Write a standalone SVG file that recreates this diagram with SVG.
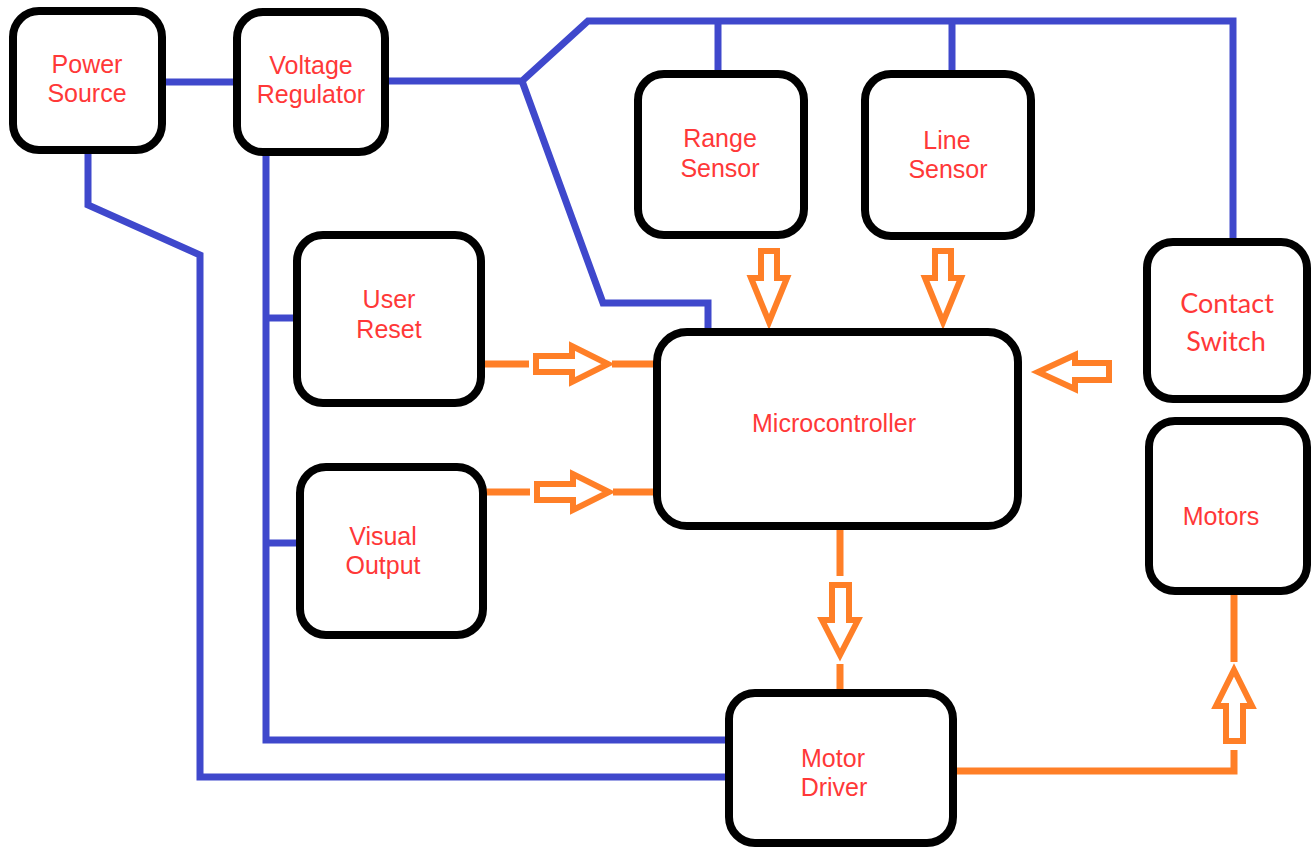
<svg xmlns="http://www.w3.org/2000/svg" width="1315" height="850" viewBox="0 0 1315 850">
<style>
.box{fill:#fff;stroke:#000;stroke-width:8}
.lbl{font-family:"Liberation Sans",Arial,sans-serif;font-size:25px;fill:#ff3838;text-anchor:middle}
.lbl2{font-family:Lato,"Liberation Sans",sans-serif;font-size:27px;fill:#ff3838;text-anchor:middle}
.pw{fill:none;stroke:#3f48cc;stroke-width:7;stroke-linejoin:miter}
.sig{fill:none;stroke:#ff7f27;stroke-width:7}
.arr{fill:#fff;stroke:#ff7f27;stroke-width:6;stroke-linejoin:miter}
</style>
<rect width="1315" height="850" fill="#fff"/>
<g id="connectors">
<!-- power wiring -->
<path class="pw" d="M165 82 H237"/>
<path class="pw" d="M389 81 H522 L588 21 H1233 V242"/>
<path class="pw" d="M718 21 V74"/>
<path class="pw" d="M952 21 V74"/>
<path class="pw" d="M522 81 L603 303 H708 V332"/>
<path class="pw" d="M88 153 V205 L200 255 V777 H729"/>
<path class="pw" d="M266 152 V740 H729"/>
<path class="pw" d="M266 318 H297"/>
<path class="pw" d="M266 543 H300"/>
<!-- signals -->
<path class="sig" d="M483 364 H529"/>
<path class="sig" d="M612 364 H657"/>
<polygon class="arr" points="536,356 572,356 572,346 608,364 572,382 572,372 536,372"/>
<path class="sig" d="M485 492 H530"/>
<path class="sig" d="M613 492 H657"/>
<polygon class="arr" points="537,484 573,484 573,474 609,492 573,510 573,500 537,500"/>
<polygon class="arr" points="761,251 777,251 777,278 787,278 769,322 751,278 761,278"/>
<polygon class="arr" points="935,251 951,251 951,278 961,278 943,322 925,278 935,278"/>
<polygon class="arr" points="1109,363 1109,380 1075,380 1075,389 1038,372 1075,355 1075,363"/>
<path class="sig" d="M840 526 V576"/>
<polygon class="arr" points="832,585 849,585 849,620 858,620 840,655 822,620 832,620"/>
<path class="sig" d="M840 664 V692"/>
<path class="sig" d="M955 771 H1234 V750"/>
<polygon class="arr" points="1226,741 1243,741 1243,706 1252,706 1234,670 1216,706 1226,706"/>
<path class="sig" d="M1234 662 V591"/>
</g>
<g id="power-source"><rect class="box" x="13" y="11" width="149" height="139" rx="26"/><text class="lbl" x="87" y="73">Power</text><text class="lbl" x="87" y="102">Source</text></g>
<g id="voltage-regulator"><rect class="box" x="237" y="12" width="148" height="140" rx="26"/><text class="lbl" x="311" y="74">Voltage</text><text class="lbl" x="311" y="103">Regulator</text></g>
<g id="range-sensor"><rect class="box" x="638" y="74" width="166" height="161" rx="26"/><text class="lbl" x="720" y="147">Range</text><text class="lbl" x="720" y="177">Sensor</text></g>
<g id="line-sensor"><rect class="box" x="865" y="74" width="166" height="162" rx="26"/><text class="lbl" x="947" y="149">Line</text><text class="lbl" x="948" y="178">Sensor</text></g>
<g id="contact-switch"><rect class="box" x="1147" y="242" width="160" height="157" rx="26"/><text class="lbl2" x="1227" y="313">Contact</text><text class="lbl2" x="1226" y="351">Switch</text></g>
<g id="user-reset"><rect class="box" x="297" y="235" width="184" height="168" rx="26"/><text class="lbl" x="389" y="308">User</text><text class="lbl" x="389" y="338">Reset</text></g>
<g id="visual-output"><rect class="box" x="300" y="467" width="183" height="168" rx="26"/><text class="lbl" x="383" y="545">Visual</text><text class="lbl" x="383" y="574">Output</text></g>
<g id="microcontroller"><rect class="box" x="657" y="332" width="361" height="194" rx="30"/><text class="lbl" x="834" y="432">Microcontroller</text></g>
<g id="motors"><rect class="box" x="1149" y="421" width="158" height="170" rx="26"/><text class="lbl" x="1221" y="525">Motors</text></g>
<g id="motor-driver"><rect class="box" x="729" y="693" width="224" height="150" rx="26"/><text class="lbl" x="833" y="767">Motor</text><text class="lbl" x="834" y="796">Driver</text></g>
</svg>
